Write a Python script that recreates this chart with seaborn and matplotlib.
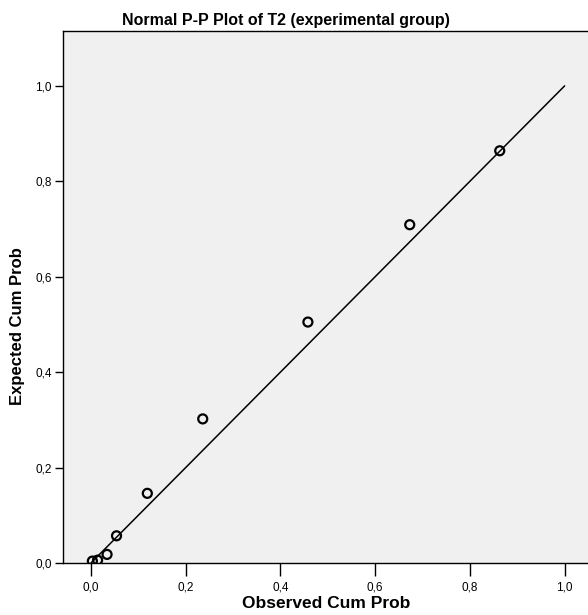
import matplotlib
matplotlib.use('Agg')
import matplotlib.pyplot as plt
from matplotlib.ticker import FuncFormatter
import seaborn as sns
import pandas as pd

#----------------------------------------------------
observed=[0.003, 0.014, 0.034, 0.054, 0.119, 0.236, 0.458, 0.673, 0.863]
expected=[0.004, 0.006, 0.018, 0.057, 0.146, 0.302, 0.505, 0.709, 0.864]
ref_x=[0.0, 1.0]
ref_y=[0.0, 1.0]
ticks=[0.0, 0.2, 0.4, 0.6, 0.8, 1.0]
title='Normal P-P Plot of T2 (experimental group)'

df=pd.DataFrame({'obs': observed, 'exp': expected})
df_ref=pd.DataFrame({'x': ref_x, 'y': ref_y})

#----------------------------------------------------
sns.set_style('ticks')
plt.rcParams['font.family']=['Liberation Sans', 'DejaVu Sans']
plt.rcParams['text.color']='black'

fig=plt.figure(figsize=(5.88, 6.15), dpi=100)
ax=fig.add_axes([63/588, 52/615, 531/588, 532/615])
ax.set_facecolor('#f0f0f0')

sns.lineplot(data=df_ref, x='x', y='y', color='black', lw=1.1, ax=ax)
sns.scatterplot(data=df, x='obs', y='exp', ax=ax, s=42, marker='o',
	facecolor='none', edgecolor='black', linewidth=1.6, zorder=3)

#adjust
ax.set_xlim(-0.059, 1.062)
ax.set_ylim(0, 1.115)
ax.set_xticks(ticks)
ax.set_yticks(ticks)
fmt=FuncFormatter(lambda v, p: f'{v:.1f}'.replace('.', ','))
ax.xaxis.set_major_formatter(fmt)
ax.yaxis.set_major_formatter(fmt)
ax.tick_params(axis='x', length=9, width=1, labelsize=8.5, pad=4, color='black', labelcolor='black')
ax.tick_params(axis='y', length=6, width=1, labelsize=8.5, pad=2, color='black', labelcolor='black')
for s in ['left', 'bottom', 'top']:
	ax.spines[s].set_color('black')
	ax.spines[s].set_linewidth(1)
ax.spines['right'].set_visible(False)
ax.set_xlabel('')
ax.set_ylabel('')

fig.text(286/588, 1-21/615, title, ha='center', va='center', fontsize=11.5, weight='bold', color='black')
fig.text(326/588, 1-604/615, 'Observed Cum Prob', ha='center', va='center', fontsize=12.5, weight='bold', color='black')
fig.text(18/588, 1-326/615, 'Expected Cum Prob', ha='center', va='center', fontsize=12,
	weight='bold', rotation=90, color='black')

plt.savefig('out.png', dpi=100)
plt.close()
